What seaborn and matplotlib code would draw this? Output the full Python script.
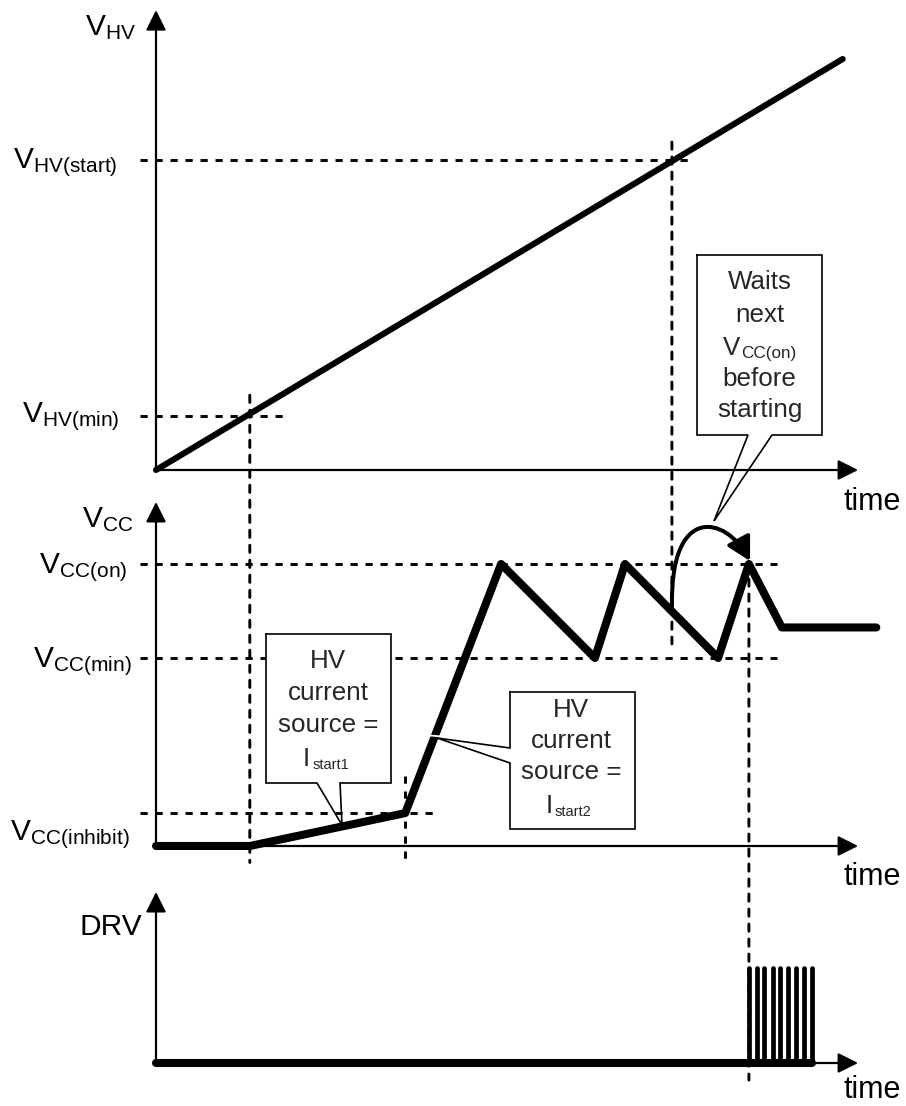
import numpy as np
import pandas as pd
import seaborn as sns
import matplotlib.pyplot as plt
from matplotlib.patches import Rectangle, FancyArrowPatch, ConnectionPatch
from matplotlib.path import Path

# ---------------- data (arbitrary units) ----------------
hv_time = [0.0, 98.1]
hv_volt = [0.0, 100.0]
HV_START = 75.4
HV_MIN = 13.1

cc_time = [0.0, 13.4, 35.6, 49.3, 62.7, 67.0, 80.3, 84.7, 89.4, 102.9]
cc_volt = [0.0, 0.0, 1.4, 12.0, 8.0, 12.0, 8.0, 12.0, 9.3, 9.3]
VCC_ON = 12.0
VCC_MIN = 8.0
VCC_INHIBIT = 1.4

drv_time = [0.0, 93.7]
drv_level = [0.0, 0.0]
drv_pulse_times = [84.7, 85.8, 86.9, 88.1, 89.2, 90.3, 91.4, 92.6, 93.7]
DRV_HIGH = 1.0

T_HVMIN = 13.4     # V_HV reaches V_HV(min): HV source starts
T_KINK = 35.6      # V_CC reaches V_CC(inhibit)
T_HVSTART = 73.7   # V_HV reaches V_HV(start)
T_DRV = 84.7       # next V_CC(on): driver starts
T_AXIS_END = 100.3

# ---------------- style / layout ----------------
sns.set_style("white")
plt.rcParams["font.family"] = ["Liberation Sans", "DejaVu Sans"]
plt.rcParams["mathtext.fontset"] = "custom"
plt.rcParams["mathtext.rm"] = "Liberation Sans"
plt.rcParams["mathtext.it"] = "Liberation Sans:italic"
plt.rcParams["mathtext.bf"] = "Liberation Sans:bold"
plt.rcParams["lines.scale_dashes"] = False

W, H = 906, 1106
T0_PX, PX_PER_T = 156, 7.0
fig = plt.figure(figsize=(W / 100, H / 100), dpi=100)
fig.patch.set_facecolor("white")


def make_panel(top, bot, zero, ppu):
    ax = fig.add_axes([0, 1 - bot / H, 1, (bot - top) / H])
    ax.patch.set_alpha(0)
    lims = ((-T0_PX / PX_PER_T, (W - T0_PX) / PX_PER_T),
            ((zero - bot) / ppu, (zero - top) / ppu))
    return ax, lims


ax_hv, lim_hv = make_panel(0, 490, 470, 4.11)
ax_cc, lim_cc = make_panel(490, 880, 846, 23.5)
ax_drv, lim_drv = make_panel(880, 1106, 1063, 95.0)

DASH_STYLE = (0, (5.2, 5.6))
DASH = dict(color="black", lw=2.1, linestyle=DASH_STYLE, zorder=1)
AX_ARROW = dict(arrowstyle="-|>,head_length=1.0,head_width=0.5", mutation_scale=12.2,
                lw=1.6, color="black", shrinkA=0, shrinkB=0)
THICK = dict(color="black", sort=False, estimator=None,
             solid_capstyle="round", solid_joinstyle="round", zorder=3)

# ---------------- V_HV panel ----------------
ax_hv.annotate("", xy=(0, 111.9), xytext=(0, 0), arrowprops=AX_ARROW)
ax_hv.annotate("", xy=(T_AXIS_END, 0), xytext=(0, 0), arrowprops=AX_ARROW)
ax_hv.plot([-2.3, 77.0], [HV_START, HV_START], **DASH)
ax_hv.plot([-2.3, 18.1], [HV_MIN, HV_MIN], **DASH)
sns.lineplot(x=hv_time, y=hv_volt, ax=ax_hv, linewidth=4.4, **THICK)

# ---------------- V_CC panel ----------------
ax_cc.annotate("", xy=(0, 14.64), xytext=(0, 0), arrowprops=AX_ARROW)
ax_cc.annotate("", xy=(T_AXIS_END, 0), xytext=(0, 0), arrowprops=AX_ARROW)
ax_cc.plot([-2.3, 88.7], [VCC_ON, VCC_ON], **DASH)
ax_cc.plot([-2.3, 88.7], [VCC_MIN, VCC_MIN], **DASH)
ax_cc.plot([-2.3, 39.9], [VCC_INHIBIT, VCC_INHIBIT], **DASH)
ax_cc.plot([T_KINK, T_KINK], [3.0, -0.7], **DASH)
sns.lineplot(x=cc_time, y=cc_volt, ax=ax_cc, linewidth=5.8, **THICK)

# ---------------- DRV panel ----------------
ax_drv.annotate("", xy=(0, 1.8), xytext=(0, 0), arrowprops=AX_ARROW)
ax_drv.annotate("", xy=(T_AXIS_END, 0), xytext=(0, 0), arrowprops=AX_ARROW)
sns.lineplot(x=drv_time, y=drv_level, ax=ax_drv, linewidth=5.8, **THICK)
pulses = pd.DataFrame({
    "t": np.repeat(drv_pulse_times, 2),
    "v": np.tile([0.0, DRV_HIGH], len(drv_pulse_times)),
    "pulse": np.repeat(np.arange(len(drv_pulse_times)), 2),
})
sns.lineplot(data=pulses, x="t", y="v", units="pulse", ax=ax_drv, linewidth=3.4,
             color="black", sort=False, estimator=None,
             solid_capstyle="round", zorder=3)

for ax, (xl, yl) in ((ax_hv, lim_hv), (ax_cc, lim_cc), (ax_drv, lim_drv)):
    ax.set_xlim(*xl)
    ax.set_ylim(*yl)
    ax.axis("off")
    if ax.get_legend() is not None:
        ax.get_legend().remove()

# ---------------- guides crossing panels ----------------
for (t, va, axa, vb, axb) in ((T_HVMIN, 18.2, ax_hv, -0.7, ax_cc),
                              (T_HVSTART, 79.8, ax_hv, 8.6, ax_cc),
                              (T_DRV, 12.0, ax_cc, -0.18, ax_drv)):
    cp = ConnectionPatch(xyA=(t, va), coordsA="data", axesA=axa,
                         xyB=(t, vb), coordsB="data", axesB=axb,
                         color="black", lw=2.1, linestyle=DASH_STYLE)
    fig.add_artist(cp)

# ---------------- overlay for text and callouts (pixel layout) ----------------
ov = fig.add_axes([0, 0, 1, 1], zorder=10)
ov.patch.set_alpha(0)
ov.set_xlim(0, W)
ov.set_ylim(H, 0)
ov.axis("off")

LBL = 21.5
level_labels = [
    (r"V$_{\mathrm{HV}}$", 136, 35),
    (r"V$_{\mathrm{HV(start)}}$", 118, 168),
    (r"V$_{\mathrm{HV(min)}}$", 120, 422),
    (r"V$_{\mathrm{CC}}$", 133, 527),
    (r"V$_{\mathrm{CC(on)}}$", 127, 573),
    (r"V$_{\mathrm{CC(min)}}$", 132, 667),
    (r"V$_{\mathrm{CC(inhibit)}}$", 130, 840),
    ("DRV", 142, 935),
]
for s, x, y in level_labels:
    ov.text(x, y, s, ha="right", va="baseline", fontsize=LBL, color="black")
for y in (510, 885, 1098):
    ov.text(844, y, "time", ha="left", va="baseline", fontsize=22, color="black")


def callout(outline, rect):
    x0, y0, x1, y1 = rect
    ov.add_patch(Rectangle((x0, y0), x1 - x0, y1 - y0, facecolor="white",
                           edgecolor="none", zorder=2))
    xs, ys = zip(*outline)
    ov.plot(xs, ys, color="black", lw=1.2, solid_joinstyle="miter", zorder=3)


CT = 18.7
# callout 1
callout([(266, 634), (391, 634), (391, 783), (340, 783), (342, 825), (317, 783),
         (266, 783), (266, 634)], (266, 634, 391, 783))
for s, y in (("HV", 668), ("current", 700), ("source =", 732)):
    ov.text(328, y, s, ha="center", va="baseline", fontsize=CT, zorder=4)
ov.text(303, 766, "I", ha="left", va="baseline", fontsize=CT, zorder=4)
ov.text(313, 769, "start1", ha="left", va="baseline", fontsize=10.5, zorder=4)

# callout 2
ov.plot([428, 443], [735.3, 736.6], color="white", lw=1.3, zorder=3)
callout([(510, 692), (635, 692), (635, 829), (510, 829), (510, 763), (437, 738),
         (510, 748), (510, 692)], (510, 692, 635, 829))
for s, y in (("HV", 717), ("current", 748), ("source =", 779)):
    ov.text(571, y, s, ha="center", va="baseline", fontsize=CT, zorder=4)
ov.text(546, 813, "I", ha="left", va="baseline", fontsize=CT, zorder=4)
ov.text(555, 816, "start2", ha="left", va="baseline", fontsize=10.5, zorder=4)

# callout 3
callout([(697, 255), (822, 255), (822, 435), (772, 435), (714, 521), (748, 435),
         (697, 435), (697, 255)], (697, 255, 822, 435))
for s, y in (("Waits", 289), ("next", 322), ("before", 386), ("starting", 417)):
    ov.text(759.5, y, s, ha="center", va="baseline", fontsize=CT, zorder=4)
ov.text(723, 355, "V", ha="left", va="baseline", fontsize=CT, zorder=4)
ov.text(741, 358, "CC(on)", ha="left", va="baseline", fontsize=12.3, zorder=4)

# curved "waits" arrow
curve = Path([(672, 606), (670, 505), (725, 515), (750, 561)],
             [Path.MOVETO, Path.CURVE4, Path.CURVE4, Path.CURVE4])
ov.add_patch(FancyArrowPatch(path=curve, arrowstyle="-|>,head_length=1.0,head_width=0.55",
                             mutation_scale=14, lw=2.9, color="black", zorder=5))

fig.savefig("out.png", dpi=100, facecolor="white")
